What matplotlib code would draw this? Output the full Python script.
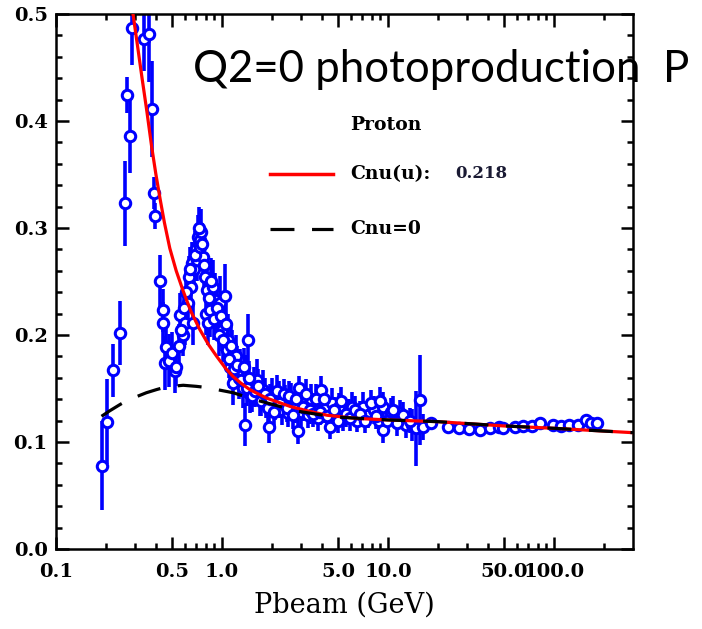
import numpy as np
import matplotlib.pyplot as plt
from matplotlib.ticker import FixedLocator, FixedFormatter, NullFormatter

# measured ratio vs beam momentum (GeV)
p_beam = [0.188, 0.203, 0.222, 0.243, 0.261, 0.267, 0.279, 0.286, 0.340, 0.363,
          0.380, 0.389, 0.395, 0.424, 0.440, 0.443, 0.453, 0.460, 0.480, 0.500,
          0.520, 0.530, 0.550, 0.560, 0.580, 0.600, 0.620, 0.630, 0.650, 0.660,
          0.670, 0.680, 0.700, 0.710, 0.720, 0.736, 0.750, 0.770, 0.790, 0.800,
          0.810, 0.820, 0.850, 0.880, 0.910, 0.940, 0.970, 1.00, 1.04, 1.07,
          1.09, 1.12, 1.15, 1.17, 1.22, 1.26, 1.29, 1.33, 1.37, 1.40,
          1.44, 1.48, 1.55, 1.62, 1.70, 1.77, 1.85, 1.93, 2.00, 2.10,
          2.20, 2.30, 2.40, 2.50, 2.60, 2.75, 2.87, 2.92, 3.00, 3.15,
          3.30, 3.45, 3.60, 3.80, 3.98, 4.20, 4.45, 4.60, 4.90, 5.10,
          5.40, 5.80, 6.10, 6.50, 7.10, 7.60, 8.20, 8.80, 9.30, 9.30,
          10.5, 11.8, 12.9, 14.0, 14.7, 15.6, 16.3, 18.3, 23.0, 27.0,
          31.0, 36.0, 41.0, 47.0, 49.3, 58.5, 65.5, 74.0, 82.0, 98.6,
          111.0, 124.0, 139.0, 157.0, 168.0, 183.0,
          # second run, resonance and transition region
          0.57, 0.59, 0.61, 0.64, 0.69, 0.73, 0.74, 0.76, 0.78, 0.83,
          0.86, 0.90, 0.93, 0.96, 0.99, 1.02, 1.06, 1.10, 1.14, 1.19,
          1.24, 1.31, 1.35, 1.42, 1.46, 1.52, 1.58, 1.66, 1.73, 1.81,
          1.89, 1.96, 2.05, 2.15, 2.25, 2.35, 2.45, 2.55, 2.68, 2.80,
          3.07, 3.22, 3.38, 3.52, 3.70, 3.90, 4.10, 4.30, 4.75, 5.00,
          5.25, 5.60, 5.95, 6.30, 6.80, 7.30, 7.90, 8.50, 9.00, 9.90,
          10.8, 11.4, 12.4, 13.5]
ratio = [0.078, 0.119, 0.167, 0.202, 0.323, 0.424, 0.386, 0.487, 0.477, 0.481,
         0.411, 0.333, 0.311, 0.250, 0.223, 0.211, 0.174, 0.189, 0.176, 0.183,
         0.166, 0.170, 0.190, 0.219, 0.200, 0.211, 0.230, 0.254, 0.245, 0.267,
         0.211, 0.262, 0.280, 0.270, 0.292, 0.289, 0.296, 0.273, 0.254, 0.220,
         0.242, 0.211, 0.223, 0.245, 0.233, 0.215, 0.230, 0.205, 0.236, 0.186,
         0.195, 0.170, 0.180, 0.155, 0.180, 0.160, 0.167, 0.150, 0.116, 0.161,
         0.195, 0.145, 0.152, 0.158, 0.140, 0.149, 0.137, 0.114, 0.145, 0.135,
         0.142, 0.130, 0.138, 0.127, 0.140, 0.132, 0.110, 0.150, 0.128, 0.136,
         0.125, 0.140, 0.130, 0.122, 0.149, 0.131, 0.114, 0.136, 0.126, 0.133,
         0.122, 0.128, 0.133, 0.120, 0.133, 0.125, 0.130, 0.120, 0.133, 0.111,
         0.128, 0.127, 0.116, 0.116, 0.113, 0.139, 0.114, 0.118, 0.114, 0.113,
         0.112, 0.111, 0.113, 0.114, 0.113, 0.114, 0.115, 0.115, 0.118, 0.116,
         0.115, 0.116, 0.116, 0.121, 0.118, 0.118,
         0.205, 0.225, 0.240, 0.262, 0.275, 0.300, 0.282, 0.285, 0.265, 0.235,
         0.250, 0.215, 0.225, 0.200, 0.218, 0.195, 0.210, 0.178, 0.190, 0.168,
         0.172, 0.158, 0.170, 0.150, 0.160, 0.143, 0.148, 0.152, 0.138, 0.145,
         0.132, 0.140, 0.128, 0.148, 0.136, 0.145, 0.132, 0.143, 0.125, 0.140,
         0.133, 0.145, 0.130, 0.126, 0.140, 0.128, 0.140, 0.124, 0.130, 0.120,
         0.138, 0.126, 0.122, 0.130, 0.126, 0.120, 0.136, 0.124, 0.138, 0.120,
         0.130, 0.118, 0.125, 0.120]
err = [0.042, 0.040, 0.025, 0.030, 0.040, 0.017, 0.035, 0.035, 0.030, 0.045,
       0.045, 0.015, 0.012, 0.025, 0.020, 0.020, 0.025, 0.020, 0.025, 0.020,
       0.020, 0.018, 0.020, 0.020, 0.020, 0.020, 0.020, 0.020, 0.020, 0.020,
       0.020, 0.020, 0.020, 0.020, 0.020, 0.028, 0.022, 0.020, 0.020, 0.020,
       0.020, 0.020, 0.025, 0.025, 0.025, 0.020, 0.025, 0.020, 0.030, 0.020,
       0.025, 0.020, 0.025, 0.020, 0.020, 0.020, 0.020, 0.018, 0.020, 0.020,
       0.025, 0.018, 0.018, 0.020, 0.016, 0.018, 0.015, 0.015, 0.015, 0.014,
       0.015, 0.014, 0.015, 0.013, 0.015, 0.014, 0.012, 0.012, 0.013, 0.014,
       0.012, 0.014, 0.013, 0.012, 0.013, 0.013, 0.011, 0.014, 0.012, 0.013,
       0.012, 0.012, 0.014, 0.011, 0.014, 0.012, 0.013, 0.012, 0.014, 0.012,
       0.013, 0.012, 0.012, 0.015, 0.035, 0.042, 0.012, 0.003, 0.003, 0.003,
       0.003, 0.003, 0.003, 0.003, 0.003, 0.003, 0.003, 0.003, 0.003, 0.003,
       0.003, 0.003, 0.003, 0.003, 0.003, 0.003,
       0.020, 0.020, 0.022, 0.020, 0.022, 0.020, 0.020, 0.020, 0.022, 0.020,
       0.022, 0.020, 0.020, 0.020, 0.020, 0.020, 0.020, 0.018, 0.018, 0.018,
       0.018, 0.016, 0.018, 0.016, 0.016, 0.015, 0.015, 0.016, 0.014, 0.015,
       0.014, 0.014, 0.013, 0.015, 0.014, 0.014, 0.013, 0.014, 0.013, 0.014,
       0.013, 0.014, 0.013, 0.012, 0.014, 0.012, 0.013, 0.012, 0.012, 0.012,
       0.013, 0.012, 0.012, 0.013, 0.012, 0.012, 0.013, 0.012, 0.013, 0.012,
       0.013, 0.012, 0.012, 0.012]

# model with Cnu(u) = 0.218
p_fit = [0.285, 0.31, 0.33, 0.352, 0.377, 0.40, 0.424, 0.45, 0.485, 0.53,
         0.584, 0.65, 0.736, 0.83, 0.93, 1.05, 1.17, 1.30, 1.47, 1.65,
         1.86, 2.2, 2.6, 3.3, 4.3, 6.5, 10.0, 20.0, 50.0, 100.0, 300.0]
r_fit = [0.510, 0.470, 0.440, 0.410, 0.376, 0.350, 0.327, 0.305, 0.281, 0.260,
         0.241, 0.222, 0.205, 0.191, 0.180, 0.169, 0.161, 0.155, 0.149, 0.145,
         0.141, 0.137, 0.133, 0.129, 0.125, 0.122, 0.1206, 0.119, 0.115, 0.1128, 0.1087]

# model with Cnu = 0
p_zero = [0.188, 0.21, 0.243, 0.27, 0.313, 0.35, 0.404, 0.45, 0.50, 0.584,
          0.70, 0.80, 0.93, 1.17, 1.54, 2.03, 2.8, 4.06, 5.3, 10.0,
          20.0, 50.0, 100.0, 300.0]
r_zero = [0.124, 0.129, 0.135, 0.139, 0.143, 0.146, 0.149, 0.151, 0.152, 0.153,
          0.152, 0.151, 0.149, 0.146, 0.140, 0.135, 0.129, 0.125, 0.123, 0.1206,
          0.119, 0.115, 0.1128, 0.1087]

xticks_major = [0.1, 0.5, 1.0, 5.0, 10.0, 50.0, 100.0]
xtick_labels = ['0.1', '0.5', '1.0', '5.0', '10.0', '50.0', '100.0']
xticks_minor = [0.2, 0.3, 0.4, 0.6, 0.7, 0.8, 0.9, 2, 3, 4, 6, 7, 8, 9,
                20, 30, 40, 60, 70, 80, 90, 200]

fig = plt.figure(figsize=(7.02, 6.29), dpi=100)
ax = fig.add_axes([0.0798, 0.1272, 0.8219, 0.8506])

ax.errorbar(p_beam, ratio, yerr=err, fmt='o', color='#0000ff', mfc='white',
            mec='#0000ff', ms=7.5, mew=2.2, elinewidth=2.6, capsize=0, zorder=2)
ax.plot(p_fit, r_fit, color='#ff0000', lw=2.3, zorder=3)
ax.plot(p_zero, r_zero, color='black', lw=2.3, dashes=(7.5, 5.5), zorder=4)

ax.set_xscale('log')
ax.set_xlim(0.1, 300)
ax.set_ylim(0, 0.5)

ax.xaxis.set_major_locator(FixedLocator(xticks_major))
ax.xaxis.set_major_formatter(FixedFormatter(xtick_labels))
ax.xaxis.set_minor_locator(FixedLocator(xticks_minor))
ax.xaxis.set_minor_formatter(NullFormatter())
ax.set_yticks(np.arange(0, 0.51, 0.1))
ax.set_yticklabels(['0.0', '0.1', '0.2', '0.3', '0.4', '0.5'])
ax.set_yticks(np.arange(0, 0.5, 0.02), minor=True)

ax.tick_params(which='both', direction='in', top=True, right=True, width=1.8)
ax.tick_params(which='major', length=9)
ax.tick_params(axis='x', which='major', pad=10)
ax.tick_params(axis='y', which='major', pad=6)
ax.tick_params(which='minor', length=4.5)
for lab in ax.get_xticklabels() + ax.get_yticklabels():
    lab.set_family('DejaVu Serif')
    lab.set_weight('bold')
    lab.set_size(14)
for s in ax.spines.values():
    s.set_linewidth(1.8)

ax.set_xlabel('Pbeam (GeV)', family='DejaVu Serif', size=19.5, labelpad=8)

# legend block
ax.text(0.5095, 0.793, 'Proton', transform=ax.transAxes, family='DejaVu Serif',
        weight='bold', size=13.5, va='center')
ax.plot([0.371, 0.480], [0.701, 0.701], transform=ax.transAxes, color='#ff0000', lw=2.5)
ax.text(0.5095, 0.701, 'Cnu(u):', transform=ax.transAxes, family='DejaVu Serif',
        weight='bold', size=13.5, va='center')
ax.text(0.6915, 0.701, '0.218', transform=ax.transAxes, family='DejaVu Serif',
        weight='bold', size=12, va='center', color='#1a1a33')
ax.plot([0.371, 0.480], [0.598, 0.598], transform=ax.transAxes, color='black',
        lw=2.3, dashes=(7.5, 5.5))
ax.text(0.5095, 0.598, 'Cnu=0', transform=ax.transAxes, family='DejaVu Serif',
        weight='bold', size=13.5, va='center')

fig.text(193 / 702, 1 - 82 / 629, 'Q2=0 photoproduction  P', family='Lato',
         size=31.5, va='baseline', ha='left')

fig.savefig('out.png', dpi=100)
